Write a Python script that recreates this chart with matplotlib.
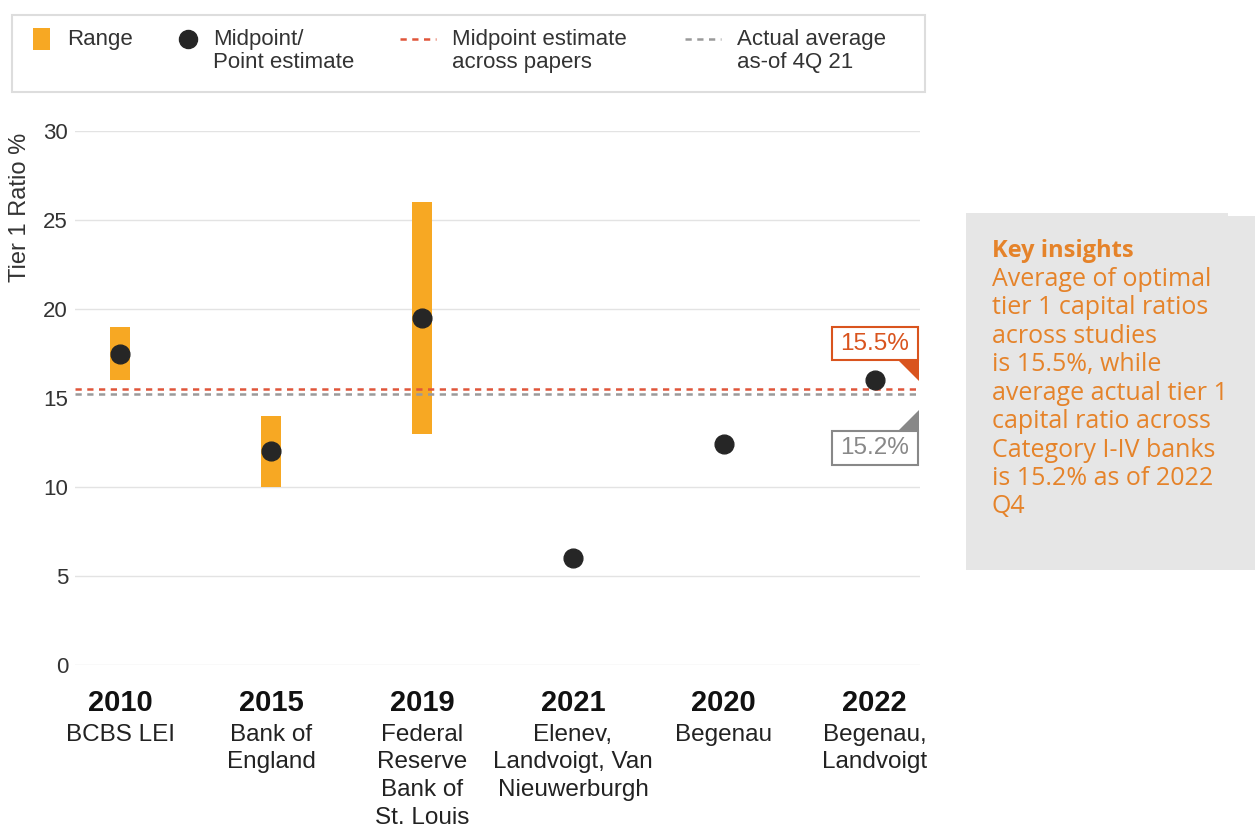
import matplotlib
matplotlib.use("Agg")
import matplotlib.pyplot as plt
from matplotlib.patches import Rectangle, Polygon
from matplotlib.lines import Line2D

plt.rcParams['font.family'] = ['Liberation Sans', 'DejaVu Sans']

# ---- data ----
years = ["2010", "2015", "2019", "2021", "2020", "2022"]
sources = ["BCBS LEI", "Bank of\nEngland", "Federal\nReserve\nBank of\nSt. Louis",
           "Elenev,\nLandvoigt, Van\nNieuwerburgh", "Begenau", "Begenau,\nLandvoigt"]
range_low = [16, 10, 13, None, None, None]
range_high = [19, 14, 26, None, None, None]
midpoints = [17.5, 12, 19.5, 6, 12.4, 16]
midpoint_avg = 15.5
actual_avg = 15.2
yticks = [0, 5, 10, 15, 20, 25, 30]

ORANGE = "#f7a823"
DOT = "#262626"
RED = "#e0553a"
GRAY = "#9a9a9a"
TXT = "#333333"
INS = "#e5832a"

W, H = 1257, 830
fig = plt.figure(figsize=(W / 100, H / 100), dpi=100)

def fx(px): return px / W
def fy(py): return 1 - py / H

ax_left, ax_right, ax_top, ax_bot = 75, 920, 131, 665
ax = fig.add_axes([fx(ax_left), fy(ax_bot), fx(ax_right - ax_left), (ax_bot - ax_top) / H])
ax.set_xlim(-0.3, 5.3)
ax.set_ylim(0, 30)
for s in ax.spines.values():
    s.set_visible(False)
ax.set_yticks(yticks)
ax.set_yticklabels([str(t) for t in yticks], fontsize=16, color=TXT)
ax.tick_params(axis='y', length=0, pad=5)
ax.set_xticks([])
for t in yticks:
    if t != 15:
        ax.axhline(t, color="#e3e3e3", lw=1, zorder=0)

x = list(range(len(years)))
for i in x:
    if range_low[i] is not None:
        ax.bar(i, range_high[i] - range_low[i], bottom=range_low[i], width=0.13,
               color=ORANGE, zorder=2)
ax.plot(x, midpoints, 'o', color=DOT, markersize=13.5, zorder=4, clip_on=False)

ax.axhline(midpoint_avg, color=RED, lw=1.8, ls=(0, (2.5, 2.2)), zorder=3)
ax.axhline(actual_avg, color=GRAY, lw=1.8, ls=(0, (2.5, 2.2)), zorder=3)

# x labels
for i in x:
    ax.text(i, -1.35, years[i], ha='center', va='top', fontsize=21, fontweight='bold',
            color="#111111")
    ax.text(i, -3.3, sources[i], ha='center', va='top', fontsize=17.5, color="#222222",
            linespacing=1.33)

# y label
fig.text(fx(20), fy(207), "Tier 1 Ratio %", rotation=90, ha='center', va='center',
         fontsize=17, color=TXT)

# callouts
def fig_rect(x0, y0, x1, y1, **kw):
    r = Rectangle((fx(x0), fy(y1)), fx(x1 - x0), (y1 - y0) / H, transform=fig.transFigure, **kw)
    fig.add_artist(r)

def fig_poly(pts, **kw):
    p = Polygon([(fx(a), fy(b)) for a, b in pts], closed=True, transform=fig.transFigure, **kw)
    fig.add_artist(p)

fig_rect(832, 327, 918, 360, facecolor='white', edgecolor="#d9541e", lw=1.5, zorder=5)
fig.text(fx(875), fy(343.5), "15.5%", ha='center', va='center', fontsize=17.5, color="#d9541e",
         zorder=6)
fig_poly([(898, 360), (919, 360), (919, 381)], facecolor="#d9541e", edgecolor='none', zorder=5)

fig_rect(832, 431, 918, 465, facecolor='white', edgecolor="#888888", lw=1.5, zorder=5)
fig.text(fx(875), fy(448), "15.2%", ha='center', va='center', fontsize=17.5, color="#888888",
         zorder=6)
fig_poly([(898, 431), (919, 410), (919, 431)], facecolor="#888888", edgecolor='none', zorder=5)

# legend box
fig_rect(12, 15, 925, 92, facecolor='white', edgecolor="#dddddd", lw=1.5, zorder=1)
fig_rect(33, 28, 50, 50, facecolor=ORANGE, edgecolor='none', zorder=2)
fig.text(fx(67), fy(39), "Range", ha='left', va='center', fontsize=16, color=TXT)
fig.add_artist(Line2D([fx(188)], [fy(39)], marker='o', color=DOT, markersize=13,
                      transform=fig.transFigure))
fig.text(fx(213), fy(51), "Midpoint/\nPoint estimate", ha='left', va='center', fontsize=16,
         color=TXT, linespacing=1.15)
fig.add_artist(Line2D([fx(400), fx(436)], [fy(39), fy(39)], color=RED, lw=1.8,
                      ls=(0, (2.5, 2.2)), transform=fig.transFigure))
fig.text(fx(452), fy(51), "Midpoint estimate\nacross papers", ha='left', va='center',
         fontsize=16, color=TXT, linespacing=1.15)
fig.add_artist(Line2D([fx(685), fx(721)], [fy(39), fy(39)], color=GRAY, lw=1.8,
                      ls=(0, (2.5, 2.2)), transform=fig.transFigure))
fig.text(fx(737), fy(51), "Actual average\nas-of 4Q 21", ha='left', va='center',
         fontsize=16, color=TXT, linespacing=1.15)

# key insights panel
fig_rect(966, 213, 1255, 570, facecolor="#e6e6e6", edgecolor='none', zorder=1)
fig_rect(1228, 208, 1257, 216, facecolor="white", edgecolor='none', zorder=2)
fig.text(fx(992), fy(251), "Key insights", ha='left', va='center', fontsize=17,
         fontweight='bold', color=INS, family=['Open Sans', 'DejaVu Sans'])
fig.text(fx(992), fy(267), "Average of optimal\ntier 1 capital ratios\nacross studies\n"
         "is 15.5%, while\naverage actual tier 1\ncapital ratio across\n"
         "Category I-IV banks\nis 15.2% as of 2022\nQ4", ha='left', va='top', fontsize=18,
         color=INS, linespacing=1.18, family=['Open Sans', 'DejaVu Sans'])

fig.savefig("out.png", dpi=100)
